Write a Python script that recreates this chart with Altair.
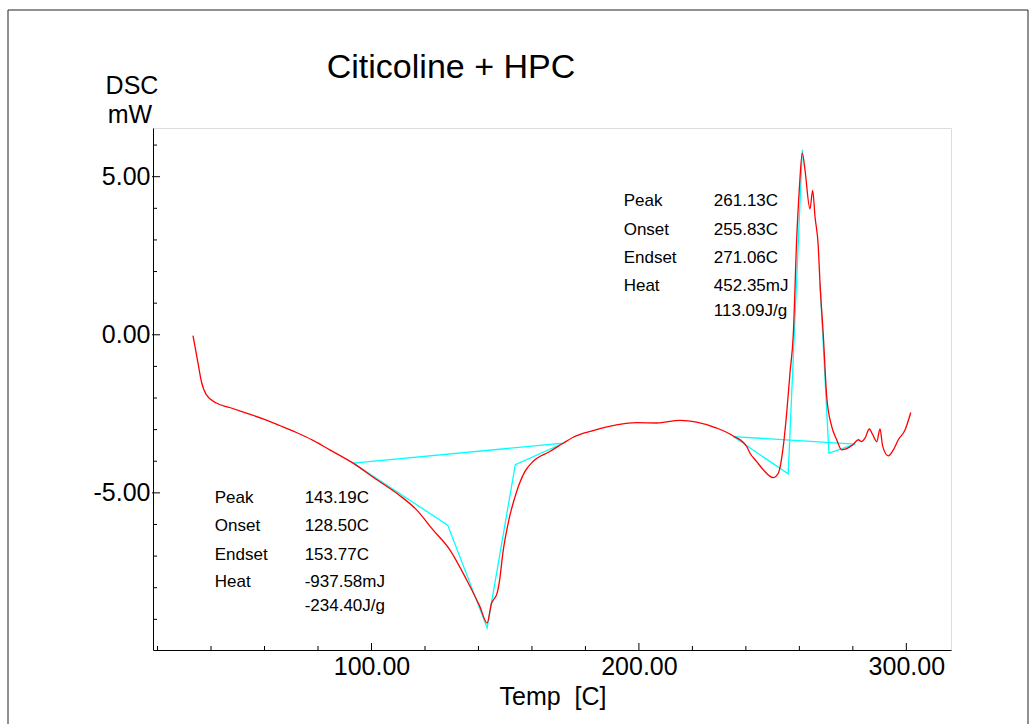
import altair as alt
import pandas as pd

# ---------------- data ----------------
# red DSC trace
temp = [33.26, 35.13, 36.40, 38.27, 42.01, 46.99, 53.24, 59.45, 65.69, 71.94,
        78.15, 84.40, 93.12, 101.9, 110.5, 116.8, 123.0, 129.3, 135.5, 140.5,
        143.25, 144.89, 145.9, 146.8, 147.9, 149.1, 151.4, 154.2, 157.35, 160.46,
        166.70, 171.68, 175.42, 182.90, 191.66, 199.14, 206.62, 215.34, 221.59, 229.07,
        235.28, 240.29, 241.5, 244.03, 246.50, 250.24, 252.11, 253.98, 255.25, 256.49,
        257.72, 258.99, 259.97, 261.09, 262.09, 263.96, 264.98, 265.84, 267.07, 267.71,
        268.94, 270.22, 272.09, 273.96, 275.83, 277.07, 280.17, 282.04, 283.31, 284.55,
        286.16, 287.43, 288.92, 290.16, 291.17, 293.26, 295.13, 297.00, 299.51, 301.65]
dsc = [-0.03, -0.90, -1.48, -1.90, -2.16, -2.30, -2.48, -2.66, -2.87, -3.09,
       -3.34, -3.64, -4.06, -4.58, -5.08, -5.53, -6.17, -6.80, -7.74, -8.59,
       -9.12, -8.49, -8.35, -8.22, -7.77, -6.92, -5.85, -4.98, -4.33, -4.00,
       -3.69, -3.43, -3.24, -3.03, -2.85, -2.78, -2.79, -2.71, -2.76, -2.95,
       -3.20, -3.53, -3.74, -4.01, -4.27, -4.52, -4.38, -3.53, -2.48, -1.21,
       0.00, 3.01, 4.59, 5.75, 5.22, 3.98, 4.57, 3.74, 2.79, 1.64,
       0.00, -1.95, -2.90, -3.32, -3.64, -3.62, -3.46, -3.32, -3.38, -3.27,
       -2.98, -3.16, -3.38, -2.98, -3.53, -3.83, -3.64, -3.32, -3.01, -2.46]

# cyan analysis lines (baselines and tangent constructions)
cy_group = ["b1", "b1",
            "p1", "p1", "p1", "p1", "p1",
            "b2", "b2",
            "p2a", "p2a", "p2a",
            "p2b", "p2b", "p2b"]
cy_temp = [93.12, 171.68,
           93.12, 128.50, 143.25, 153.77, 171.68,
           235.28, 280.90,
           235.28, 255.83, 261.10,
           267.71, 271.06, 280.90]
cy_dsc = [-4.06, -3.43,
          -4.06, -6.02, -9.27, -4.11, -3.43,
          -3.22, -3.46,
          -3.22, -4.40, 5.85,
          1.64, -3.74, -3.46]

# annotation texts
left_labels = ["Peak", "Onset", "Endset", "Heat"]
left_values = ["143.19C", "128.50C", "153.77C", "-937.58mJ", "-234.40J/g"]
right_labels = ["Peak", "Onset", "Endset", "Heat"]
right_values = ["261.13C", "255.83C", "271.06C", "452.35mJ", "113.09J/g"]

# axis ticks
x_major = [100, 200, 300]
x_minor = [20, 40, 60, 80, 120, 140, 160, 180, 220, 240, 260, 280]
y_major = [-5, 0, 5]
y_minor = [-9, -8, -7, -6, -4, -3, -2, -1, 1, 2, 3, 4, 6]

# annotation anchor positions (data units)
left_label_x, left_value_x = 41.4, 75.0
left_rows = [-5.16, -6.06, -6.95, -7.83, -8.59]
right_label_x, right_value_x = 194.3, 228.0
right_rows = [4.22, 3.32, 2.43, 1.53, 0.74]

# ---------------- chart ----------------
FONT = "Liberation Sans"
W, H = 798, 522
xs = alt.Scale(domain=[18.3, 316.7], nice=False, zero=False)
ys = alt.Scale(domain=[-9.97, 6.54], nice=False, zero=False)

one = pd.DataFrame({"_": [0]})

curve = pd.DataFrame({"t": temp, "v": dsc, "k": list(range(len(temp)))})
cyan_df = pd.DataFrame({"g": cy_group, "t": cy_temp, "v": cy_dsc,
                        "k": list(range(len(cy_temp)))})

label_expr = "replace(format(datum.value, '.2f'), '\u2212', '-')"
x_axis = alt.Axis(values=x_major, labelExpr=label_expr, ticks=False, tickSize=0, grid=False,
                  labelFontSize=25, labelPadding=4, labelColor="black", labelFont=FONT,
                  domainColor="black", domainWidth=1, title=None)
y_axis = alt.Axis(values=y_major, labelExpr=label_expr, ticks=False, tickSize=0, grid=False,
                  labelFontSize=25, labelPadding=3, labelColor="black", labelFont=FONT,
                  domainColor="black", domainWidth=1, title=None)

X = lambda f: alt.X(f, scale=xs, axis=x_axis)
Y = lambda f: alt.Y(f, scale=ys, axis=y_axis)

frame = alt.Chart(one).mark_rect(fillOpacity=0, stroke="#222222", strokeWidth=1).encode(
    x=alt.value(8 - 153), x2=alt.value(1028 - 153),
    y=alt.value(10 - 128), y2=alt.value(760))

cyan = alt.Chart(cyan_df).mark_line(color="#00ffff", strokeWidth=1.3).encode(
    x=X("t:Q"), y=Y("v:Q"), detail="g:N", order="k:Q")

red = alt.Chart(curve).mark_line(color="#ff0000", strokeWidth=1.3,
                                 interpolate="monotone").encode(
    x=X("t:Q"), y=Y("v:Q"), order="k:Q")

xmaj = alt.Chart(pd.DataFrame({"t": x_major})).mark_rule(color="black", strokeWidth=1).encode(
    x=X("t:Q"), y=alt.value(H), y2=alt.value(H - 7))
xmin = alt.Chart(pd.DataFrame({"t": x_minor})).mark_rule(color="black", strokeWidth=1).encode(
    x=X("t:Q"), y=alt.value(H), y2=alt.value(H - 4))
ymaj = alt.Chart(pd.DataFrame({"v": y_major})).mark_rule(color="black", strokeWidth=1).encode(
    y=Y("v:Q"), x=alt.value(-1), x2=alt.value(7))
ymin = alt.Chart(pd.DataFrame({"v": y_minor})).mark_rule(color="black", strokeWidth=1).encode(
    y=Y("v:Q"), x=alt.value(0), x2=alt.value(4))

ann_df = pd.DataFrame({
    "t": [left_label_x] * len(left_labels) + [left_value_x] * len(left_values)
         + [right_label_x] * len(right_labels) + [right_value_x] * len(right_values),
    "v": left_rows[:len(left_labels)] + left_rows + right_rows[:len(right_labels)] + right_rows,
    "s": left_labels + left_values + right_labels + right_values,
})
ann = alt.Chart(ann_df).mark_text(align="left", baseline="middle", fontSize=17,
                                  font=FONT, color="black").encode(
    x=X("t:Q"), y=Y("v:Q"), text="s:N")

title = alt.Chart(one).mark_text(text="Citicoline + HPC", fontSize=34, font=FONT,
                                 align="center", baseline="alphabetic", color="black").encode(
    x=alt.value(298), y=alt.value(-50))
ylab1 = alt.Chart(one).mark_text(text="DSC", fontSize=25, font=FONT,
                                 align="center", baseline="alphabetic", color="black").encode(
    x=alt.value(-21), y=alt.value(-34))
ylab2 = alt.Chart(one).mark_text(text="mW", fontSize=25, font=FONT,
                                 align="center", baseline="alphabetic", color="black").encode(
    x=alt.value(-23), y=alt.value(-5.5))
xlab = alt.Chart(one).mark_text(text="Temp\u00a0\u00a0[C]", fontSize=25, font=FONT,
                                align="center", baseline="alphabetic", color="black").encode(
    x=alt.value(400), y=alt.value(577))

chart = alt.layer(frame, cyan, red, xmaj, xmin, ymaj, ymin, ann, title, ylab1, ylab2, xlab).properties(
    width=W, height=H,
    autosize=alt.AutoSizeParams(type="none"),
    padding={"left": 153, "top": 128, "right": 80, "bottom": 74},
    background="white",
).configure_view(stroke="#555555", strokeWidth=1).configure(font=FONT)

chart.save("out.html", embed_options={"renderer": "svg", "actions": False})
